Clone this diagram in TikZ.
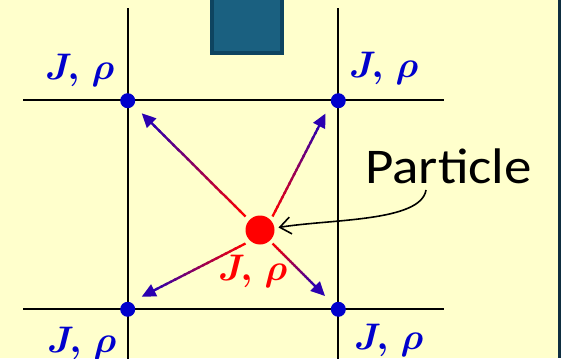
\RequirePackage{fix-cm}
\documentclass[tikz,border=0pt]{standalone}
\usepackage{bm}
\usepackage{fontspec}
\newfontfamily\partfont{Carlito}[FakeStretch=1.1]
\usetikzlibrary{arrows.meta,calc}
\definecolor{bg}{HTML}{FFFFCC}
\definecolor{sqfill}{HTML}{1A6080}
\definecolor{sqedge}{HTML}{0E4460}
\definecolor{dotblue}{HTML}{0000CC}
\definecolor{tipblue}{HTML}{2A00B0}
\definecolor{edgecol}{HTML}{0F2E40}
\newcommand\jrho{$\bm{J}\bm{,}\,\bm{\rho}$}
\tikzset{
  gridline/.style={line width=2pt, black},
  gdot/.style={circle, fill=dotblue, inner sep=0pt, minimum size=15pt},
  lbl/.style={text=dotblue, font=\fontsize{37}{37}\selectfont, anchor=base west, inner sep=0pt},
}
\newcommand\gradarrow[2]{%
  \coordinate (gmid) at ($(#2)!13pt!(#1)$);
  \foreach \i in {0,...,19}{
    \pgfmathsetmacro\pa{\i/20}
    \pgfmathsetmacro\pb{min((\i+1.4)/20,1)}
    \pgfmathsetmacro\cc{100*(\i+0.5)/20}
    \draw[line width=2.3pt, color=tipblue!\cc!red] ($(#1)!\pa!(gmid)$) -- ($(#1)!\pb!(gmid)$);
  }
  \draw[line width=2.3pt, tipblue, -{Triangle[length=14pt,width=13pt]}] ($(gmid)!1pt!(#1)$) -- (#2);
}
\begin{document}
\begin{tikzpicture}[x=1pt,y=-1pt]
\useasboundingbox (0,0) rectangle (561,358);
\clip (0,0) rectangle (561,358);
\fill[bg] (0,0) rectangle (561,358);
\fill[edgecol] (557.5,0) rectangle (561,358);
\draw[sqedge, fill=sqfill, line width=4pt] (212,-10) rectangle (282,53);

% grid
\coordinate (v1t) at (127.7,8.5);
\coordinate (v1b) at (127.7,362);
\coordinate (v2t) at (338.3,8.5);
\coordinate (v2b) at (338.3,362);
\coordinate (h1l) at (23,100.5);
\coordinate (h1r) at (443.5,100.5);
\coordinate (h2l) at (23,309.3);
\coordinate (h2r) at (443.5,309.3);
\draw[gridline] (v1t) -- (v1b);
\draw[gridline] (v2t) -- (v2b);
\draw[gridline] (h1l) -- (h1r);
\draw[gridline] (h2l) -- (h2r);

\node[gdot] (tl) at (127.7,100.7) {};
\node[gdot] (tr) at (338.3,100.7) {};
\node[gdot] (bl) at (127.7,309.3) {};
\node[gdot] (br) at (338.3,309.3) {};

\node[lbl] (ltl) at (45,80) {\jrho};
\node[lbl] (ltr) at (349,77.5) {\jrho};
\node[lbl] (lbl1) at (47,352) {\jrho};
\node[lbl] (lbr) at (354,349) {\jrho};

% particle
\node[circle, fill=red, minimum size=29pt, inner sep=0pt] (p) at (260,230) {};
\node[lbl, text=red] (lp) at (218,280) {\jrho};

% arrows
\coordinate (s1) at (245.5,216.5);
\coordinate (e1) at (141.7,113.3);
\coordinate (s2) at (272.5,216.5);
\coordinate (e2) at (325.5,113.5);
\coordinate (s3) at (245.5,243.5);
\coordinate (e3) at (141.7,296.7);
\coordinate (s4) at (272.5,243.5);
\coordinate (e4) at (325,296);
\gradarrow{s1}{e1}
\gradarrow{s2}{e2}
\gradarrow{s3}{e3}
\gradarrow{s4}{e4}

% particle label
\node[anchor=base west, inner sep=0pt, font=\partfont\fontsize{50}{50}\selectfont] (ptxt) at (365,183.3) {Particle};
\coordinate (c0) at (426,190);
\coordinate (ptip) at (278.5,227.5);
\draw[black, line width=1.6pt, -{Straight Barb[length=11pt,width=17pt]}] (c0) .. controls (421,222) and (330,219) .. (ptip);
\end{tikzpicture}
\end{document}
